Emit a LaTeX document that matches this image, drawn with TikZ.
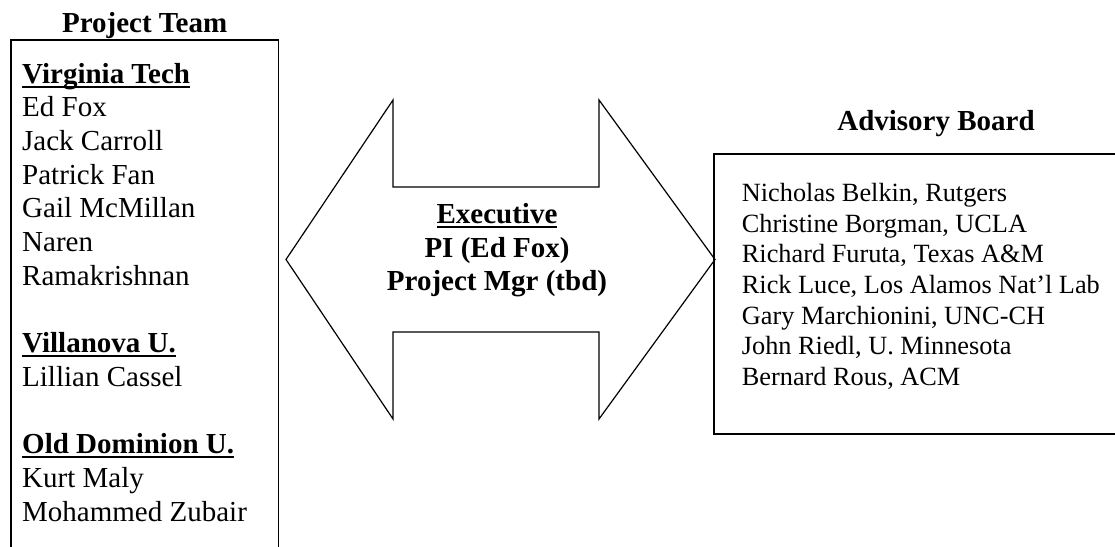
\documentclass[tikz,border=0pt]{standalone}
\usepackage{fontspec}
\setmainfont{Liberation Serif}
\usetikzlibrary{positioning}
\newcommand{\hdrule}[1]{\setbox0\hbox{\bfseries #1}\rlap{\rule[-4.5pt]{\wd0}{2pt}}\box0}

\begin{document}
\begin{tikzpicture}[
    x=1pt, y=-1pt,
    font=\fontsize{29}{33.7}\selectfont,
    panel/.style={
        rectangle,
        draw=black,
        line width=1.8pt,
        inner sep=0pt,
        anchor=north west
    },
    heading/.style={font=\fontsize{29}{33.4}\selectfont\bfseries, inner sep=0pt},
    names/.style={align=left, inner sep=0pt, anchor=base west},
    board/.style={names, font=\fontsize{26.3}{30.6}\selectfont},
    bigarrow/.style={draw=black, line width=1.2pt, line join=miter}
]
    \useasboundingbox (0,0) rectangle (1115,546);

    % left panel (base = last line)
    \node (team) [panel, minimum width=267.5pt, minimum height=560pt] at (10,39) {};
    \node (teamtitle) [heading, above=0pt of team.north] {Project Team};
    \node (members) [names] at (22,521.1) {\hdrule{Virginia Tech}\\
        Ed Fox\\
        Jack Carroll\\
        Patrick Fan\\
        Gail McMillan\\
        Naren\\
        Ramakrishnan\\[33.7pt]
        \hdrule{Villanova U.}\\
        Lillian Cassel\\[33.7pt]
        \hdrule{Old Dominion U.}\\
        Kurt Maly\\
        Mohammed Zubair};

    % double arrow in the middle
    \draw [bigarrow] (286,259.5) -- (393,100) -- (393,187) -- (599,187) -- (599,100)
        -- (715,259.5) -- (599,419) -- (599,332) -- (393,332) -- (393,419) -- cycle;
    \node (exec) [heading, align=center, anchor=base] at (497,290.7)
        {\hdrule{Executive}\\ PI (Ed Fox)\\ Project Mgr (tbd)};

    % right panel
    \node (advisory) [panel, minimum width=430pt, minimum height=280pt] at (713.3,152.7) {};
    \node (boardtitle) [heading, anchor=base] at (936,130) {Advisory Board};
    \node (boardnames) [board] at (741.7,385.3) {Nicholas Belkin, Rutgers\\
        Christine Borgman, UCLA\\
        Richard Furuta, Texas A\&M\\
        Rick Luce, Los Alamos Nat’l Lab\\
        Gary Marchionini, UNC-CH\\
        John Riedl, U. Minnesota\\
        Bernard Rous, ACM};

\end{tikzpicture}
\end{document}
